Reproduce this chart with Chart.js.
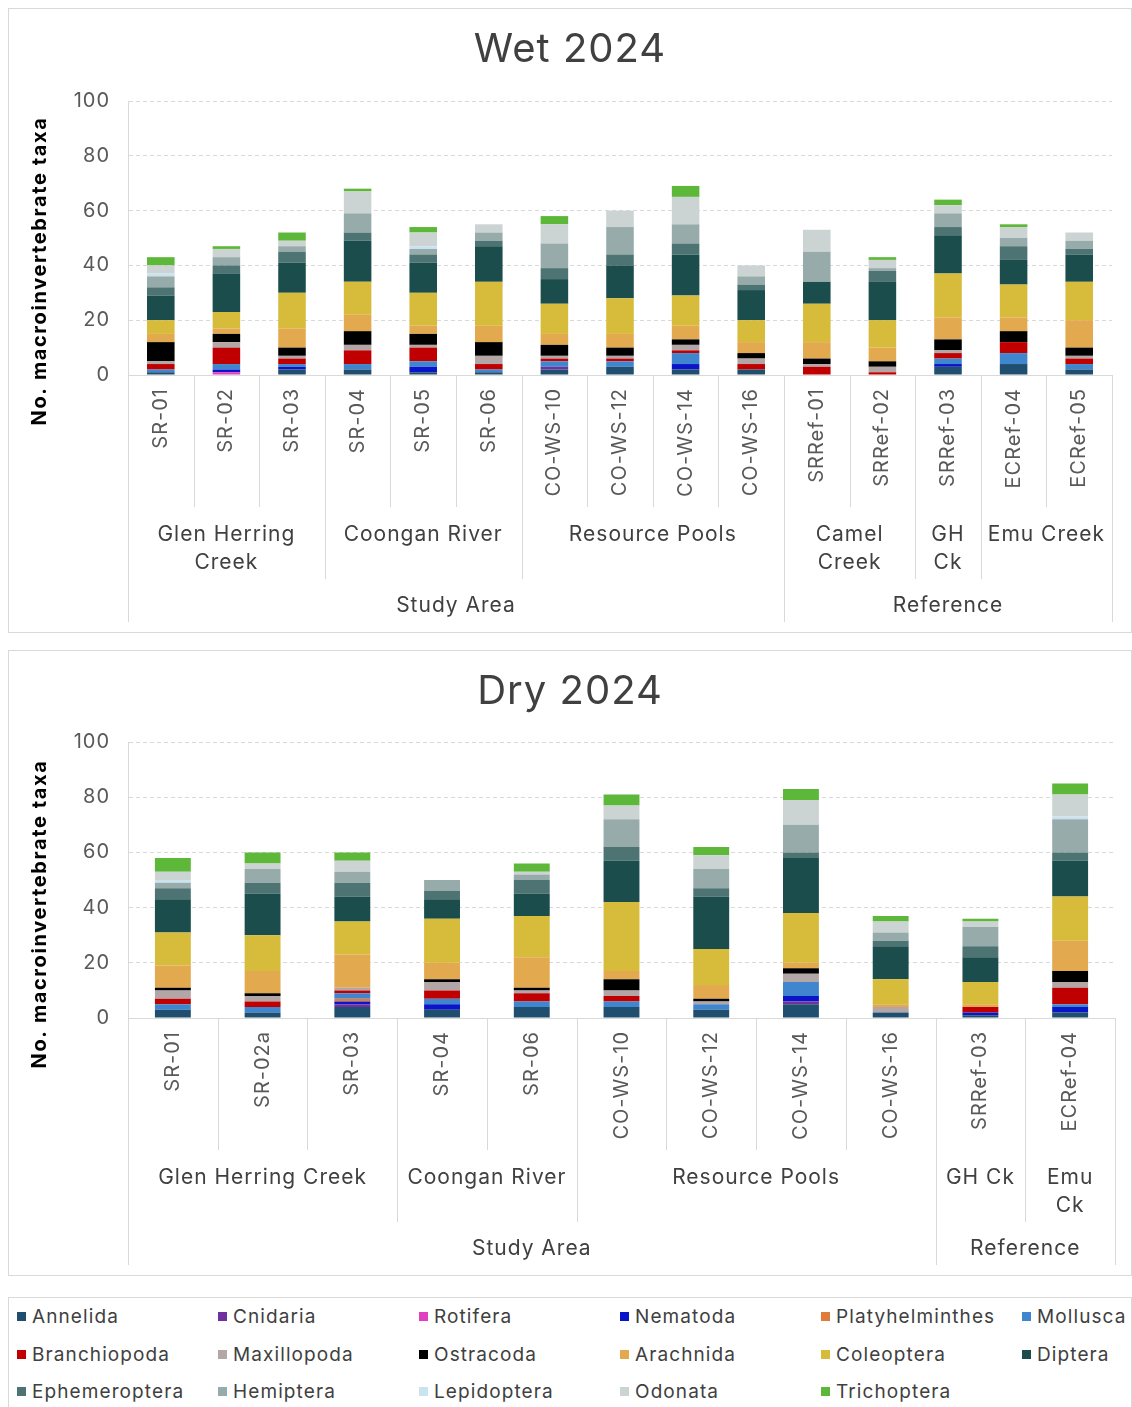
<!DOCTYPE html>
<html><head><meta charset="utf-8">
<script src="https://cdn.jsdelivr.net/npm/chart.js@4"></script>
<style>
body{margin:0;background:#fff;width:1132px;height:1407px;position:relative;overflow:hidden;font-family:Inter,sans-serif}
.panel{position:absolute;left:8px;width:1122px;border:1px solid #d9d9d9;background:#fff}
#wetP{top:8px;height:623px}
#dryP{top:650px;height:624px}
#legend{position:absolute;left:8px;top:1297px;width:1122px;height:130px;border:1px solid #d9d9d9}
.li{position:absolute;font-size:19px;letter-spacing:1.1px;color:#404040;white-space:nowrap;line-height:20px;font-family:Inter,sans-serif}
.li i{display:inline-block;width:9px;height:9px;margin-right:6px;vertical-align:middle;position:relative;top:-1px}
canvas{display:block}
</style></head>
<body>
<div class="panel" id="wetP"><canvas id="wet" width="1122" height="623"></canvas></div>
<div class="panel" id="dryP"><canvas id="dry" width="1122" height="624"></canvas></div>
<div id="legend"></div>
<script>
// ---------- DATA ----------
const taxa = ['Annelida','Cnidaria','Rotifera','Nematoda','Platyhelminthes','Mollusca','Branchiopoda','Maxillopoda','Ostracoda','Arachnida','Coleoptera','Diptera','Ephemeroptera','Hemiptera','Lepidoptera','Odonata','Trichoptera'];
const taxaColors = ['#1f4e6e','#7030a0','#e040c0','#0a14c8','#e07b39','#3f86cf','#c00000','#b3a6a6','#000000','#e3a94f','#d6bc3a','#1b4d4d','#4e7373','#98abab','#c9e3f0','#ccd3d3','#5db83a'];
const yTitle = 'No. macroinvertebrate taxa';

const wetSites = ['SR-01','SR-02','SR-03','SR-04','SR-05','SR-06','CO-WS-10','CO-WS-12','CO-WS-14','CO-WS-16','SRRef-01','SRRef-02','SRRef-03','ECRef-04','ECRef-05'];
const wetAnnelida        = [1,0,2,2,1,1,2,3,2,2,0,0,3,4,2];
const wetCnidaria        = [0,0,0,0,0,0,1,0,0,0,0,0,0,0,0];
const wetRotifera        = [0,1,0,0,0,0,0,0,0,0,0,0,0,0,0];
const wetNematoda        = [0,1,1,0,2,0,0,0,2,0,0,0,1,0,0];
const wetPlatyhelminthes = [0,0,0,0,0,0,0,0,0,0,0,0,0,0,0];
const wetMollusca        = [1,2,1,2,2,1,2,2,4,0,0,0,2,4,2];
const wetBranchiopoda    = [2,6,2,5,5,2,1,1,1,2,3,1,2,4,2];
const wetMaxillopoda     = [1,2,1,2,1,3,1,1,2,2,1,2,1,0,1];
const wetOstracoda       = [7,3,3,5,4,5,4,3,2,2,2,2,4,4,3];
const wetArachnida       = [3,2,7,6,3,6,4,5,5,4,6,5,8,5,10];
const wetColeoptera      = [5,6,13,12,12,16,11,13,11,8,14,10,16,12,14];
const wetDiptera         = [9,14,11,15,11,13,9,12,15,11,8,14,14,9,10];
const wetEphemeroptera   = [3,3,4,3,3,2,4,4,4,2,0,4,3,5,2];
const wetHemiptera       = [4,3,2,7,2,3,9,10,7,3,11,1,5,3,3];
const wetLepidoptera     = [1,0,0,0,1,0,0,0,0,0,0,0,0,0,0];
const wetOdonata         = [3,3,2,8,5,3,7,6,10,4,8,3,3,4,3];
const wetTrichoptera     = [3,1,3,1,2,0,3,0,4,0,0,1,2,1,0];
const wetGroupLabels = [['Glen Herring','Creek'],['Coongan River'],['Resource Pools'],['Camel','Creek'],['GH','Ck'],['Emu Creek']];
const wetGroupSizes  = [3,3,4,2,1,2];
const wetAreaLabels  = ['Study Area','Reference'];
const wetAreaSizes   = [10,5];

const drySites = ['SR-01','SR-02a','SR-03','SR-04','SR-06','CO-WS-10','CO-WS-12','CO-WS-14','CO-WS-16','SRRef-03','ECRef-04'];
const dryAnnelida        = [3,2,4,3,4,4,3,5,2,1,2];
const dryCnidaria        = [0,0,1,0,0,0,0,1,0,0,0];
const dryRotifera        = [0,0,0,0,0,0,0,0,0,0,0];
const dryNematoda        = [0,0,1,2,0,0,0,2,0,1,2];
const dryPlatyhelminthes = [0,0,1,0,0,0,0,0,0,0,0];
const dryMollusca        = [2,2,2,2,2,2,2,5,0,0,1];
const dryBranchiopoda    = [2,2,1,3,3,2,0,0,0,2,6];
const dryMaxillopoda     = [3,2,1,3,1,2,1,3,2,0,2];
const dryOstracoda       = [1,1,0,1,1,4,1,2,0,0,4];
const dryArachnida       = [8,8,12,6,11,3,5,2,1,1,11];
const dryColeoptera      = [12,13,12,16,15,25,13,18,9,8,16];
const dryDiptera         = [12,15,9,7,8,15,19,20,12,9,13];
const dryEphemeroptera   = [4,4,5,3,5,5,3,2,2,4,3];
const dryHemiptera       = [2,5,4,4,2,10,7,10,3,7,12];
const dryLepidoptera     = [1,0,0,0,0,0,0,0,0,0,1];
const dryOdonata         = [3,2,4,0,1,5,5,9,4,2,8];
const dryTrichoptera     = [5,4,3,0,3,4,3,4,2,1,4];
const dryGroupLabels = [['Glen Herring Creek'],['Coongan River'],['Resource Pools'],['GH Ck'],['Emu','Ck']];
const dryGroupSizes  = [3,2,4,1,1];
const dryAreaLabels  = ['Study Area','Reference'];
const dryAreaSizes   = [9,2];

const yTicks = [0,20,40,60,80,100];

const wetSeries = [wetAnnelida,wetCnidaria,wetRotifera,wetNematoda,wetPlatyhelminthes,wetMollusca,wetBranchiopoda,wetMaxillopoda,wetOstracoda,wetArachnida,wetColeoptera,wetDiptera,wetEphemeroptera,wetHemiptera,wetLepidoptera,wetOdonata,wetTrichoptera];
const drySeries = [dryAnnelida,dryCnidaria,dryRotifera,dryNematoda,dryPlatyhelminthes,dryMollusca,dryBranchiopoda,dryMaxillopoda,dryOstracoda,dryArachnida,dryColeoptera,dryDiptera,dryEphemeroptera,dryHemiptera,dryLepidoptera,dryOdonata,dryTrichoptera];

// ---------- RENDER ----------
const FONT = 'Inter, "DejaVu Sans", sans-serif';
const GRID = '#d9d9d9';

function boundariesOf(sizes){ const s=new Set(); let c=0; s.add(0); sizes.forEach(n=>{c+=n; s.add(c);}); return s; }

// wider letter spacing to approximate the original wide geometric typeface
const spacingPlugin = {
  id:'spacing',
  beforeUpdate(chart){ chart.ctx.letterSpacing = '1px'; },
  beforeDraw(chart){ chart.ctx.letterSpacing = '1px'; }
};

const groupPlugin = {
  id:'groups',
  afterDraw(chart, args, opts){
    const ctx = chart.ctx, xs = chart.scales.x, yb = chart.chartArea.bottom;
    const n = chart.data.labels.length;
    const px = i => xs.getPixelForValue(i);
    const bx = k => k===0 ? xs.left : (k===n ? xs.right : (px(k-1)+px(k))/2);
    const gB = boundariesOf(opts.groupSizes), aB = boundariesOf(opts.areaSizes);
    ctx.save();
    ctx.strokeStyle = GRID; ctx.lineWidth = 1;
    for(let k=0;k<=n;k++){
      let len = 132;
      if(aB.has(k)) len = 247; else if(gB.has(k)) len = 204;
      const x = Math.round(bx(k))+0.5;
      ctx.beginPath(); ctx.moveTo(x, yb); ctx.lineTo(x, yb+len); ctx.stroke();
    }
    ctx.fillStyle = '#404040';
    ctx.font = '21px ' + FONT;
    ctx.textAlign = 'center'; ctx.textBaseline = 'middle';
    let c = 0;
    opts.groupLabels.forEach((lines,gi)=>{
      const a = c, b = c + opts.groupSizes[gi] - 1; c += opts.groupSizes[gi];
      const cx = (px(a)+px(b))/2;
      lines.forEach((t,li)=> ctx.fillText(t, cx, yb+160+li*28));
    });
    c = 0;
    opts.areaLabels.forEach((t,ai)=>{
      const a = c, b = c + opts.areaSizes[ai] - 1; c += opts.areaSizes[ai];
      ctx.fillText(t, (bx(a)+bx(b+1))/2, yb+231);
    });
    // y-axis title (placed like the original, lower than the axis centre)
    ctx.save();
    ctx.letterSpacing = '1.6px';
    ctx.translate(31, yb - 104);
    ctx.rotate(-Math.PI/2);
    ctx.fillStyle = '#000';
    ctx.font = 'bold 20px ' + FONT;
    ctx.fillText(opts.yTitle, 0, 0);
    ctx.restore();
    ctx.restore();
  }
};

function makeChart(id, title, sites, series, groupLabels, groupSizes, areaLabels, areaSizes, g){
  const canvas = document.getElementById(id);
  canvas.getContext('2d').letterSpacing = '1px';
  return new Chart(canvas, {
    type:'bar',
    data:{
      labels: sites,
      datasets: taxa.map((t,i)=>({label:t, data:series[i], backgroundColor:taxaColors[i], borderWidth:0,
        barPercentage:g.barPct, categoryPercentage:1}))
    },
    plugins:[spacingPlugin, groupPlugin],
    options:{
      responsive:false, animation:false,
      layout:{padding:{left:0,right:0,top:0,bottom:0}},
      plugins:{
        legend:{display:false}, tooltip:{enabled:false},
        title:{display:true, text:title, color:'#404040', font:{family:FONT,size:40,weight:'normal'}, padding:{top:17,bottom:g.titleBottom}},
        groups:{groupLabels, groupSizes, areaLabels, areaSizes, yTitle}
      },
      scales:{
        x:{stacked:true,
          grid:{drawOnChartArea:false, drawTicks:false},
          border:{color:GRID, width:1},
          ticks:{autoSkip:false, minRotation:90, maxRotation:90, padding:13, color:'#595959', font:{family:FONT,size:20}},
          afterFit(s){ s.height = g.xHeight; }
        },
        y:{stacked:true, min:0, max:100,
          afterBuildTicks(s){ s.ticks = yTicks.map(v=>({value:v})); },
          grid:{color:GRID, drawTicks:false},
          border:{color:GRID, width:1, dash:[4,3]},
          ticks:{padding:18, color:'#595959', font:{family:FONT,size:20}},
          title:{display:false},
          afterFit(s){ s.width = 119; }
        },
        yRight:{position:'right', display:true,
          grid:{display:false, drawTicks:false}, border:{display:false}, ticks:{display:false},
          afterFit(s){ s.width = g.padRight; }
        }
      }
    }
  });
}

makeChart('wet','Wet 2024', wetSites, wetSeries, wetGroupLabels, wetGroupSizes, wetAreaLabels, wetAreaSizes,
  {barPct:0.42, padRight:19, titleBottom:27, xHeight:257});
makeChart('dry','Dry 2024', drySites, drySeries, dryGroupLabels, dryGroupSizes, dryAreaLabels, dryAreaSizes,
  {barPct:0.40, padRight:16, titleBottom:26, xHeight:257});

// ---------- LEGEND (HTML text) ----------
const leg = document.getElementById('legend');
taxa.forEach((t,i)=>{
  const col = i%6, row = Math.floor(i/6);
  const d = document.createElement('div');
  d.className='li';
  d.style.left = (8 + col*201) + 'px';
  d.style.top = (9 + row*37.5) + 'px';
  d.innerHTML = '<i style="background:'+taxaColors[i]+'"></i>'+t;
  leg.appendChild(d);
});
</script>
</body></html>
